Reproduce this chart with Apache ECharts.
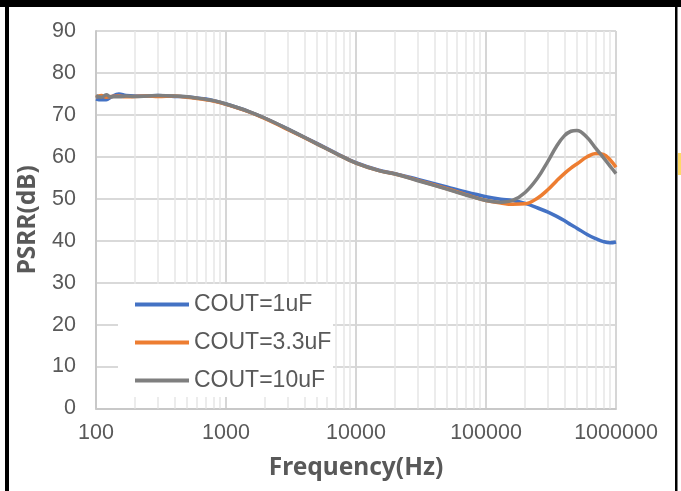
<!DOCTYPE html>
<html><head><meta charset="utf-8">
<script src="https://cdn.jsdelivr.net/npm/echarts@6/dist/echarts.min.js"></script>
<style>html,body{margin:0;padding:0;background:#fff;}#c{width:681px;height:491px;}</style>
</head><body><div id="c"></div>
<script>
var freq = [100,110,120,130,150,170,200,250,300,400,500,600,700,800,1000,1500,2000,3000,5000,7000,10000,15000,20000,30000,50000,70000,100000,130000,160000,200000,250000,300000,350000,400000,450000,500000,600000,700000,800000,900000,1000000];
var cout1uF = [73.8,73.6,73.6,74.2,75.0,74.6,74.5,74.5,74.6,74.4,74.3,74.0,73.8,73.4,72.6,70.8,69.2,66.6,63.2,60.9,58.6,56.8,56.0,54.6,52.8,51.6,50.5,49.9,49.6,48.9,47.8,46.8,45.8,44.8,43.8,43.0,41.5,40.5,39.8,39.5,39.7];
var cout3_3uF = [74.2,74.6,74.2,74.4,74.5,74.3,74.4,74.5,74.4,74.5,74.2,73.9,73.6,73.3,72.5,70.7,69.1,66.5,63.1,60.8,58.5,56.7,55.9,54.4,52.4,51.0,49.6,49.0,48.7,48.8,50.2,52.2,54.3,56.0,57.3,58.3,60.0,60.8,60.6,59.3,57.5];
var cout10uF = [74.6,74.2,74.8,74.3,74.3,74.5,74.4,74.5,74.6,74.5,74.3,74.0,73.7,73.4,72.6,70.8,69.2,66.6,63.1,60.8,58.5,56.7,55.9,54.3,52.3,50.9,49.6,49.2,49.6,51.5,55.0,59.0,62.6,65.0,66.1,66.3,64.6,62.0,59.8,57.8,56.0];
var seriesNames = ['COUT=1uF','COUT=3.3uF','COUT=10uF'];
var xTicks = [100,1000,10000,100000,1000000];
var yMin = 0, yMax = 90, yStep = 10;

var minorLines = [];
for (var d = 0; d < xTicks.length - 1; d++) {
  for (var k = 2; k <= 9; k++) minorLines.push({xAxis: xTicks[d] * k});
}
function pairs(v){ return freq.map(function(f,i){ return [f, v[i]]; }); }
var colors = ['#4472C4','#ED7D31','#7F7F7F'];
var vals = [cout1uF, cout3_3uF, cout10uF];
var series = vals.map(function(v,i){
  return {name: seriesNames[i], type:'line', smooth:0.4, showSymbol:false, symbol:'none',
    data: pairs(v), lineStyle:{width:3.5, color:colors[i]}, itemStyle:{color:colors[i]}, z: 11+i};
});
series.unshift({type:'line', data:[], silent:true, z:1,
  markLine:{silent:true, symbol:['none','none'], label:{show:false},
    lineStyle:{color:'#e6e6e6', width:1.5, type:'solid'}, data: minorLines}});

var chart = echarts.init(document.getElementById('c'), null, {renderer:'canvas'});
chart.setOption({
  animation:false,
  backgroundColor:'#fff',
  grid:{left:96, right:65, top:31, bottom:82.5, containLabel:false},
  xAxis:{type:'log', logBase:10, min:100, max:1000000,
    name:'Frequency(Hz)', nameLocation:'middle', nameGap:47,
    nameTextStyle:{fontFamily:'Noto Sans', fontWeight:'bold', fontSize:24.5, color:'#595959'},
    axisLine:{show:true, lineStyle:{color:'#c8c8c8', width:2}},
    axisTick:{show:false},
    axisLabel:{fontFamily:'Liberation Sans', fontSize:21.5, color:'#595959', margin:14,
      formatter:function(v){ return String(Math.round(v)); }},
    splitLine:{show:true, lineStyle:{color:'#d6d6d6', width:2}}},
  yAxis:{type:'value', min:yMin, max:yMax, interval:yStep,
    name:'PSRR(dB)', nameLocation:'middle', nameGap:55, nameRotate:90,
    nameTextStyle:{fontFamily:'Noto Sans', fontWeight:'bold', fontSize:24.5, color:'#595959'},
    axisLine:{show:true, lineStyle:{color:'#c8c8c8', width:2}},
    axisTick:{show:false},
    axisLabel:{fontFamily:'Liberation Sans', fontSize:21.5, color:'#595959', margin:20},
    splitLine:{show:true, lineStyle:{color:'#d9d9d9', width:2}}},
  legend:{show:true, data:seriesNames, orient:'vertical', left:118, top:284, z:20,
    padding:[9,12,9,17], itemGap:15, icon:'rect',
    itemWidth:54, itemHeight:4,
    textStyle:{fontFamily:'Liberation Sans', fontSize:23, color:'#595959', lineHeight:22}},
  graphic:[
    {type:'rect', shape:{x:118,y:284,width:215,height:113}, style:{fill:'#fff'}, z:10},
    {type:'rect', shape:{x:0,y:0,width:681,height:7}, style:{fill:'#000'}, z:100},
    {type:'rect', shape:{x:5,y:0,width:4,height:491}, style:{fill:'#000'}, z:100},
    {type:'rect', shape:{x:675,y:0,width:2.5,height:491}, style:{fill:'#000'}, z:100},
    {type:'rect', shape:{x:678,y:153,width:3,height:22}, style:{fill:'#FFD966'}, z:100}
  ],
  series: series
});
</script></body></html>
